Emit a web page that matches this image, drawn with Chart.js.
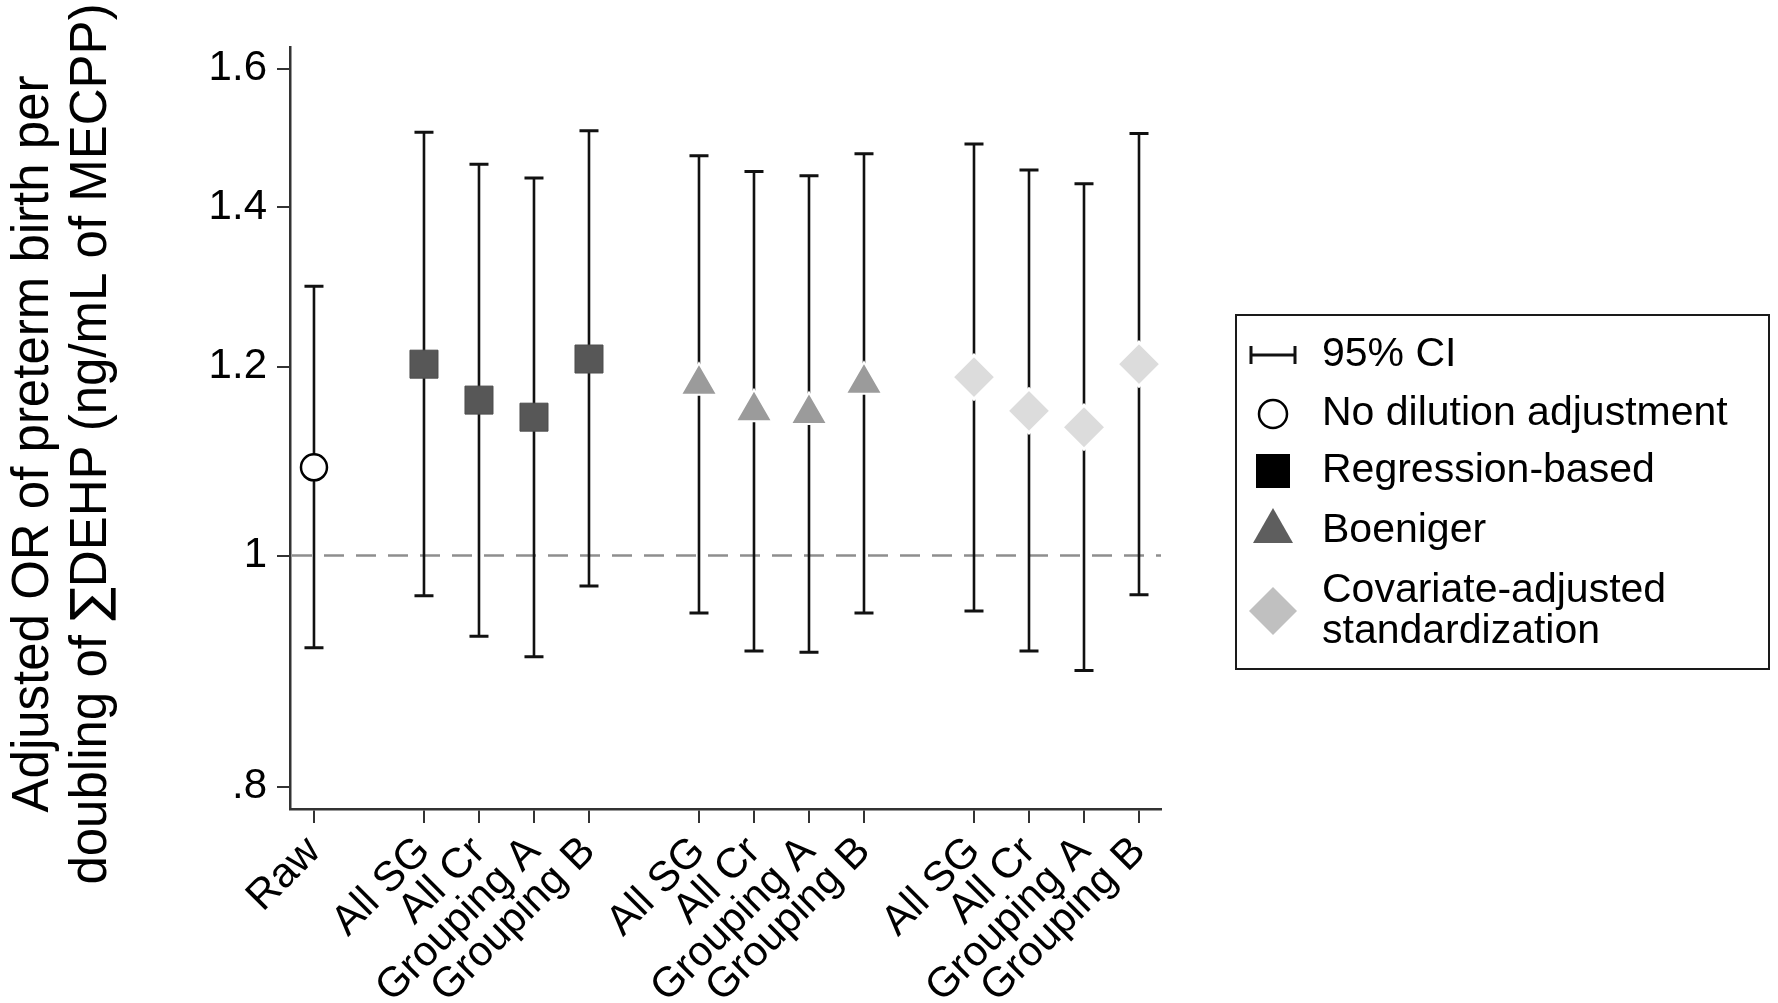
<!DOCTYPE html>
<html>
<head>
<meta charset="utf-8">
<script src="https://cdn.jsdelivr.net/npm/chart.js@4.4.1/dist/chart.umd.min.js"></script>
<style>
html,body{margin:0;padding:0;background:#fff;}
#wrap{width:1778px;height:1003px;position:relative;overflow:hidden;}
</style>
</head>
<body>
<div id="wrap"><canvas id="c" width="1778" height="1003"></canvas></div>
<script>
// ---------- data ----------
const slotPositions = [0, 2, 3, 4, 5, 7, 8, 9, 10, 12, 13, 14, 15];
const categoryLabels = ['Raw', 'All SG', 'All Cr', 'Grouping A', 'Grouping B',
  'All SG', 'All Cr', 'Grouping A', 'Grouping B',
  'All SG', 'All Cr', 'Grouping A', 'Grouping B'];

const rawX = [0];
const rawOR = [1.089];
const rawLo = [0.915];
const rawHi = [1.297];

const regX = [2, 3, 4, 5];
const regOR = [1.203, 1.162, 1.143, 1.209];
const regLo = [0.962, 0.925, 0.907, 0.971];
const regHi = [1.505, 1.459, 1.440, 1.507];

const boenX = [7, 8, 9, 10];
const boenOR = [1.180, 1.150, 1.147, 1.181];
const boenLo = [0.946, 0.912, 0.911, 0.946];
const boenHi = [1.471, 1.449, 1.443, 1.474];

const covX = [12, 13, 14, 15];
const covOR = [1.188, 1.150, 1.132, 1.203];
const covLo = [0.948, 0.912, 0.895, 0.963];
const covHi = [1.488, 1.451, 1.432, 1.503];

const yTickValues = [0.8, 1, 1.2, 1.4, 1.6];
const yTickLabels = ['.8', '1', '1.2', '1.4', '1.6'];
const referenceOR = 1;

const yTitleLine1 = 'Adjusted OR of preterm birth per';
const yTitleLine2a = 'doubling of ';
const yTitleSigma = '\u2211';
const yTitleLine2b = 'DEHP (ng/mL of MECPP)';
const legendLabels = ['95% CI', 'No dilution adjustment', 'Regression-based', 'Boeniger', ['Covariate-adjusted', 'standardization']];

// ---------- helpers ----------
const FONT = '"Liberation Sans", Arial, Helvetica, sans-serif';
function pts(xs, ys) { return xs.map((x, i) => ({ x: x, y: ys[i] })); }

// ---------- plugins ----------
const ciPlugin = {
  id: 'ciPlugin',
  beforeDatasetsDraw(chart) {
    const { ctx, chartArea, scales: { x, y } } = chart;
    ctx.save();
    const yr = y.getPixelForValue(referenceOR);
    ctx.strokeStyle = '#8e8e8e';
    ctx.lineWidth = 2.5;
    ctx.setLineDash([20, 12]);
    ctx.beginPath();
    ctx.moveTo(chartArea.left + 2, yr);
    ctx.lineTo(chartArea.right, yr);
    ctx.stroke();
    ctx.setLineDash([]);
    chart.data.datasets.forEach(ds => {
      ds.data.forEach((p, i) => {
        const px = x.getPixelForValue(p.x);
        const pt = y.getPixelForValue(ds.ciHi[i]);
        const pb = y.getPixelForValue(ds.ciLo[i]);
        ctx.strokeStyle = '#111';
        ctx.lineWidth = 2.6;
        ctx.beginPath();
        ctx.moveTo(px, pt);
        ctx.lineTo(px, pb);
        ctx.stroke();
        ctx.lineWidth = 3;
        ctx.beginPath();
        ctx.moveTo(px - 9.5, pt); ctx.lineTo(px + 9.5, pt);
        ctx.moveTo(px - 9.5, pb); ctx.lineTo(px + 9.5, pb);
        ctx.stroke();
      });
    });
    ctx.restore();
  }
};

const yTitlePlugin = {
  id: 'yTitlePlugin',
  afterDraw(chart) {
    const ctx = chart.ctx;
    const cy = 444;
    const f = '51px ' + FONT, fs = '50px "DejaVu Sans", ' + FONT;
    ctx.save();
    ctx.fillStyle = '#000';
    ctx.textBaseline = 'alphabetic';
    // line 1
    ctx.save();
    ctx.translate(48, cy);
    ctx.rotate(-Math.PI / 2);
    ctx.font = f;
    ctx.textAlign = 'center';
    ctx.fillText(yTitleLine1, 0, 0);
    ctx.restore();
    // line 2 (with summation sign)
    ctx.save();
    ctx.translate(106, cy);
    ctx.rotate(-Math.PI / 2);
    ctx.font = f; const wa = ctx.measureText(yTitleLine2a).width;
    const wb = ctx.measureText(yTitleLine2b).width;
    ctx.font = fs; const ws = ctx.measureText(yTitleSigma).width;
    const total = wa + ws + wb;
    let xx = -total / 2;
    ctx.textAlign = 'left';
    ctx.font = f; ctx.fillText(yTitleLine2a, xx, 0); xx += wa;
    ctx.font = fs; ctx.fillText(yTitleSigma, xx, 0); xx += ws;
    ctx.font = f; ctx.fillText(yTitleLine2b, xx, 0);
    ctx.restore();
    ctx.restore();
  }
};

const boxLegend = {
  id: 'boxLegend',
  afterDraw(chart) {
    const ctx = chart.ctx;
    const L = 1236, T = 315, W = 533, H = 354;
    const sx = 1273, tx = 1322;
    ctx.save();
    ctx.strokeStyle = '#1a1a1a';
    ctx.lineWidth = 2;
    ctx.strokeRect(L, T, W, H);
    ctx.font = '41px ' + FONT;
    ctx.textBaseline = 'middle';
    ctx.textAlign = 'left';
    const rows = [355, 414, 471, 531, [591, 632]];
    ctx.strokeStyle = '#111';
    ctx.lineWidth = 3;
    ctx.beginPath();
    ctx.moveTo(sx - 22, rows[0]); ctx.lineTo(sx + 22, rows[0]);
    ctx.moveTo(sx - 22, rows[0] - 9); ctx.lineTo(sx - 22, rows[0] + 9);
    ctx.moveTo(sx + 22, rows[0] - 9); ctx.lineTo(sx + 22, rows[0] + 9);
    ctx.stroke();
    ctx.beginPath();
    ctx.arc(sx, rows[1], 14, 0, Math.PI * 2);
    ctx.fillStyle = '#fff'; ctx.fill();
    ctx.lineWidth = 2.5; ctx.strokeStyle = '#000'; ctx.stroke();
    ctx.fillStyle = '#000';
    ctx.fillRect(sx - 17, rows[2] - 17, 34, 34);
    ctx.fillStyle = '#5e5e5e';
    ctx.beginPath();
    ctx.moveTo(sx, rows[3] - 23); ctx.lineTo(sx + 20, rows[3] + 12); ctx.lineTo(sx - 20, rows[3] + 12);
    ctx.closePath(); ctx.fill();
    ctx.fillStyle = '#c0c0c0';
    const dy = 611;
    ctx.beginPath();
    ctx.moveTo(sx, dy - 24); ctx.lineTo(sx + 24, dy); ctx.lineTo(sx, dy + 24); ctx.lineTo(sx - 24, dy);
    ctx.closePath(); ctx.fill();
    ctx.fillStyle = '#000';
    legendLabels.forEach((lab, i) => {
      if (Array.isArray(lab)) {
        lab.forEach((t, j) => ctx.fillText(t, tx, rows[i][j]));
      } else {
        ctx.fillText(lab, tx, rows[i]);
      }
    });
    ctx.restore();
  }
};

// ---------- chart ----------
const tickFont = { family: FONT, size: 42 };

new Chart(document.getElementById('c'), {
  type: 'scatter',
  data: {
    datasets: [
      { label: legendLabels[1], data: pts(rawX, rawOR), ciLo: rawLo, ciHi: rawHi,
        pointStyle: 'circle', pointRadius: 13, pointHoverRadius: 13,
        backgroundColor: '#ffffff', borderColor: '#000000', borderWidth: 2.5 },
      { label: legendLabels[2], data: pts(regX, regOR), ciLo: regLo, ciHi: regHi,
        pointStyle: 'rect', pointRadius: 19.8, pointHoverRadius: 19.8,
        backgroundColor: '#575757', borderColor: '#4d4d4d', borderWidth: 1 },
      { label: legendLabels[3], data: pts(boenX, boenOR), ciLo: boenLo, ciHi: boenHi,
        pointStyle: 'triangle', pointRadius: 21, pointHoverRadius: 21,
        backgroundColor: '#9b9b9b', borderColor: '#ffffff', borderWidth: 2 },
      { label: 'Covariate-adjusted standardization', data: pts(covX, covOR), ciLo: covLo, ciHi: covHi,
        pointStyle: 'rectRot', pointRadius: 22, pointHoverRadius: 22,
        backgroundColor: '#dcdcdc', borderColor: '#ffffff', borderWidth: 3 }
    ]
  },
  options: {
    responsive: false,
    animation: false,
    events: [],
    layout: { padding: { left: 0, top: 47, right: 617, bottom: 0 } },
    plugins: { legend: { display: false }, tooltip: { enabled: false } },
    scales: {
      x: {
        type: 'linear',
        min: -0.436, max: 15.4,
        afterBuildTicks: s => { s.ticks = slotPositions.map(v => ({ value: v })); },
        afterFit: s => { s.height = 194; },
        ticks: {
          autoSkip: false, minRotation: 45, maxRotation: 45, padding: 4,
          color: '#000', font: tickFont,
          callback: v => { const i = slotPositions.indexOf(v); return i >= 0 ? categoryLabels[i] : ''; }
        },
        grid: { drawOnChartArea: false, drawTicks: true, tickLength: 14, tickColor: '#333', tickWidth: 2, lineWidth: 2, color: '#333' },
        border: { display: true, color: '#333', width: 2.5 }
      },
      y: {
        type: 'logarithmic',
        min: 0.783, max: 1.634,
        afterBuildTicks: s => { s.ticks = yTickValues.map(v => ({ value: v })); },
        afterFit: s => { s.width = 290; },
        ticks: {
          padding: 10, color: '#000', font: tickFont,
          callback: v => { const i = yTickValues.indexOf(v); return i >= 0 ? yTickLabels[i] : ''; }
        },
        grid: { drawOnChartArea: false, drawTicks: true, tickLength: 13, tickColor: '#333', tickWidth: 2, lineWidth: 2, color: '#333' },
        border: { display: true, color: '#333', width: 2.5 },
        title: { display: false }
      }
    }
  },
  plugins: [ciPlugin, yTitlePlugin, boxLegend]
});
</script>
</body>
</html>
